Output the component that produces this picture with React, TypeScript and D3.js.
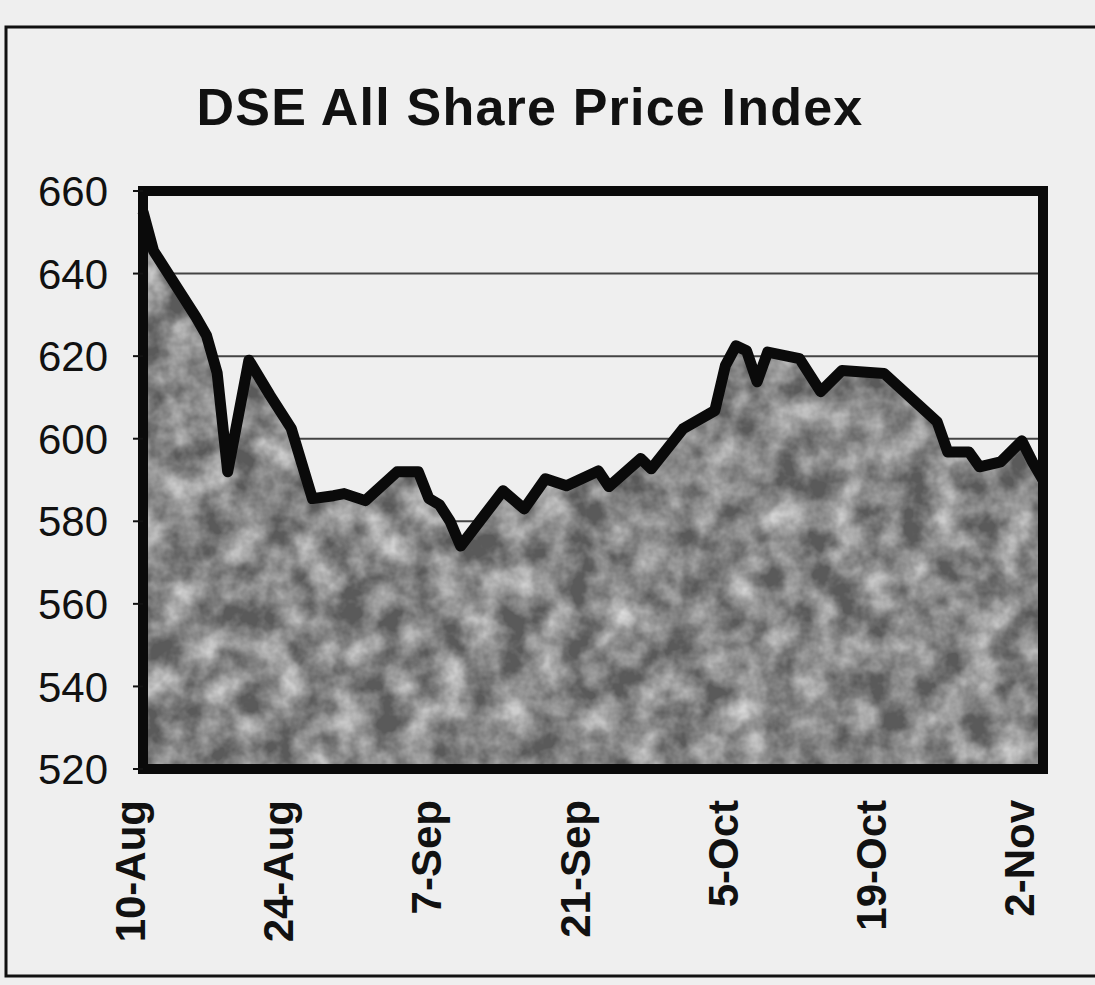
import * as d3 from 'd3';
import React from 'react';

// DSE All Share Price Index, daily closes
const dates = [
  '1998-08-10', '1998-08-11', '1998-08-13', '1998-08-15', '1998-08-16', '1998-08-17',
  '1998-08-18', '1998-08-20', '1998-08-22', '1998-08-23', '1998-08-24', '1998-08-26',
  '1998-08-28', '1998-08-29', '1998-08-31', '1998-09-03', '1998-09-05', '1998-09-06',
  '1998-09-07', '1998-09-08', '1998-09-09', '1998-09-13', '1998-09-15', '1998-09-17',
  '1998-09-19', '1998-09-22', '1998-09-23', '1998-09-26', '1998-09-27', '1998-09-30',
  '1998-10-03', '1998-10-04', '1998-10-05', '1998-10-06', '1998-10-07', '1998-10-08',
  '1998-10-11', '1998-10-13', '1998-10-15', '1998-10-19', '1998-10-24', '1998-10-25',
  '1998-10-27', '1998-10-28', '1998-10-30', '1998-11-01', '1998-11-02', '1998-11-03',
];
const values = [
  655, 645.5, 637.5, 629.5, 625, 616,
  592, 619, 610.5, 606.5, 602.5, 585.5,
  586.2, 586.7, 585, 592, 592, 585.5,
  584, 580, 574, 587.4, 583, 590.3,
  588.6, 592.2, 588.4, 595.2, 592.7, 602.4,
  606.8, 617.7, 622.5, 621.3, 613.8, 621,
  619.4, 611.4, 616.5, 615.8, 604.1, 596.8,
  596.8, 593.2, 594.4, 599.5, 594.4, 590,
];
const tickDates = ['1998-08-10', '1998-08-24', '1998-09-07', '1998-09-21', '1998-10-05', '1998-10-19', '1998-11-02'];
const yTicks = [520, 540, 560, 580, 600, 620, 640, 660];
const title = 'DSE All Share Price Index';

const W = 1095, H = 985;
const plot = { left: 143, right: 1043, top: 191, bottom: 769 };
const parse = d3.timeParse('%Y-%m-%d');
const fmt = d3.timeFormat('%-d-%b');

export default function App() {
  const data = dates.map((d, i) => ({ date: parse(d) as Date, value: values[i] }));

  const x = d3.scaleTime()
    .domain([data[0].date, data[data.length - 1].date])
    .range([plot.left, plot.right]);
  const y = d3.scaleLinear().domain([520, 660]).range([plot.bottom, plot.top]);

  const area = d3.area<any>().x(d => x(d.date)).y0(y(520)).y1(d => y(d.value));
  const line = d3.line<any>().x(d => x(d.date)).y(d => y(d.value));

  const font = 'Liberation Sans, Arial, sans-serif';

  return (
    <svg width={W} height={H} style={{ position: 'absolute', left: 0, top: 0, background: '#efefef' }}>
      <defs>
        {/* light blotches over a dark grey base, like the newsprint screen */}
        <filter id="mottle" x="0" y="0" width="1" height="1">
          <feTurbulence type="fractalNoise" baseFrequency="0.03" numOctaves="4" seed="11" result="noise" />
          <feColorMatrix in="noise" type="matrix"
            values="0 0 0 0 1  0 0 0 0 1  0 0 0 0 1  0 0 0 1.2 -0.33" result="light" />
          <feComposite in="light" in2="SourceGraphic" operator="in" />
        </filter>
      </defs>

      {/* outer frame */}
      <rect x={6} y={27} width={W + 10} height={949} fill="none" stroke="#111" strokeWidth={3} />

      <text x={530} y={125} textAnchor="middle" fontFamily={font} fontWeight="bold" fontSize={52}
        letterSpacing={1.2} fill="#111">
        {title}
      </text>

      {/* gridlines */}
      {yTicks.filter(t => t > 520 && t < 660).map(t => (
        <line key={t} x1={plot.left} x2={plot.right} y1={y(t)} y2={y(t)} stroke="#444" strokeWidth={2} />
      ))}

      {/* area */}
      <path d={area(data) as string} fill="#5a5a5a" />
      <path d={area(data) as string} fill="#5a5a5a" filter="url(#mottle)" />
      <path d={line(data) as string} fill="none" stroke="#0a0a0a" strokeWidth={11} strokeLinejoin="round" />

      {/* plot frame */}
      <rect x={plot.left} y={plot.top} width={plot.right - plot.left} height={plot.bottom - plot.top}
        fill="none" stroke="#0a0a0a" strokeWidth={10} />

      {/* y axis */}
      {yTicks.map(t => (
        <g key={t}>
          <line x1={plot.left - 10} x2={plot.left} y1={y(t)} y2={y(t)} stroke="#111" strokeWidth={2} />
          <text x={108} y={y(t)} dy="0.36em" textAnchor="end" fontFamily={font} fontSize={42} fill="#111">
            {t}
          </text>
        </g>
      ))}

      {/* x axis labels */}
      {tickDates.map(s => {
        const d = parse(s) as Date;
        return (
          <text key={s} transform={`translate(${x(d) + 2},800) rotate(-90)`} textAnchor="end"
            fontFamily={font} fontWeight="bold" fontSize={42} fill="#111">
            {fmt(d)}
          </text>
        );
      })}
    </svg>
  );
}
